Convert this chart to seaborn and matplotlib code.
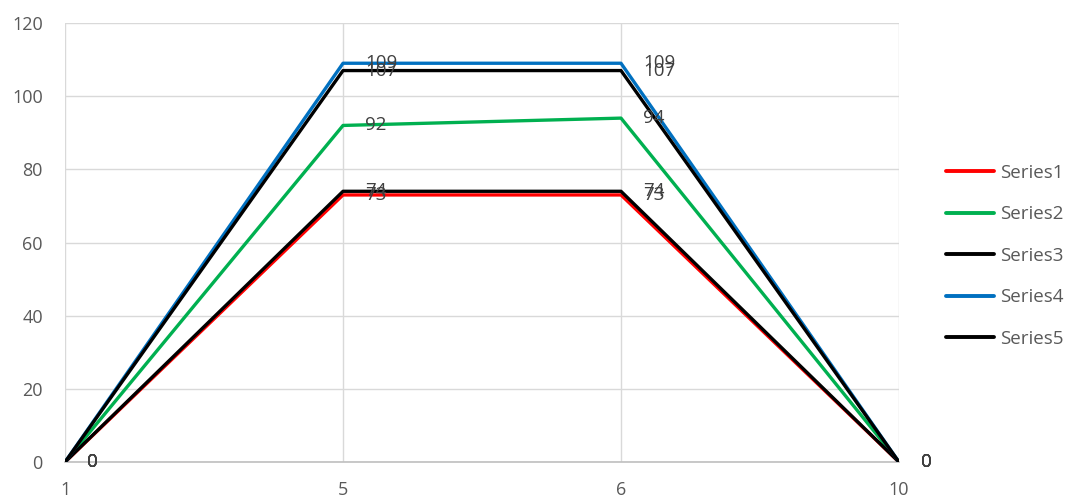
import matplotlib
matplotlib.use("Agg")
import matplotlib.pyplot as plt
import seaborn as sns
import pandas as pd

# chart data
categories = ["1", "5", "6", "10"]
series_names = ["Series1", "Series2", "Series3", "Series4", "Series5"]
series1 = [0, 73, 73, 0]
series2 = [0, 92, 94, 0]
series3 = [0, 74, 74, 0]
series4 = [0, 109, 109, 0]
series5 = [0, 107, 107, 0]
colors = ["#FF0000", "#00B050", "#000000", "#0070C0", "#000000"]

values = [series1, series2, series3, series4, series5]
rows = []
for name, vals in zip(series_names, values):
    for i, (cat, v) in enumerate(zip(categories, vals)):
        rows.append({"pos": i, "Category": cat, "Value": v, "Series": name})
df = pd.DataFrame(rows)

sns.set_style("white")
plt.rcParams["font.family"] = ["Open Sans", "DejaVu Sans"]
grey = "#595959"

fig = plt.figure(figsize=(10.67, 4.98), dpi=100)
ax = fig.add_axes([0.061, 0.0723, 0.7815, 0.8815])

sns.lineplot(data=df, x="pos", y="Value", hue="Series", hue_order=series_names,
             palette=colors, linewidth=2.4, ax=ax, legend=True, zorder=3)

# data labels to the right of each point
for name, vals in zip(series_names, values):
    for i, v in enumerate(vals):
        ax.annotate(str(v), (i, v), xytext=(16, 0), textcoords="offset points",
                    ha="left", va="center", fontsize=13.5, color="#404040", zorder=4)

ax.set_xlim(0, len(categories) - 1)
ax.set_ylim(0, 120)
ax.set_yticks(range(0, 121, 20))
ax.set_xticks(range(len(categories)))
ax.set_xticklabels(categories)
ax.tick_params(axis="both", length=0, labelsize=13, labelcolor=grey)
ax.tick_params(axis="x", pad=14)
ax.tick_params(axis="y", pad=16)
ax.set_xlabel("")
ax.set_ylabel("")
ax.grid(True, color="#D9D9D9", linewidth=1, zorder=0)
for side in ["top", "right", "left"]:
    ax.spines[side].set_visible(False)
ax.spines["bottom"].set_color("#BFBFBF")
ax.spines["bottom"].set_linewidth(1.2)

leg = ax.legend(loc="center left", bbox_to_anchor=(1.047, 0.47), frameon=False,
                fontsize=13.5, handlelength=2.6, handletextpad=0.3, labelspacing=1.25,
                borderaxespad=0)
for t in leg.get_texts():
    t.set_color(grey)
for h in leg.get_lines():
    h.set_linewidth(2.8)

fig.savefig("out.png", dpi=100)
